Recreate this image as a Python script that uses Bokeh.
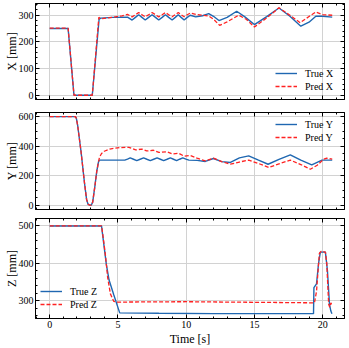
from bokeh.plotting import figure
from bokeh.layouts import column
from bokeh.models import Range1d, LinearAxis, SingleIntervalTicker, Legend, LegendItem, Grid
from bokeh.embed import file_html
from bokeh.resources import INLINE

FONT = "Liberation Serif"
BLUE = "#1f67b1"
RED = "#ff2222"

# ---- data (time in s, position in mm) ----
tx_true = [0, 1.35, 1.78, 3.12, 3.62, 3.75, 4.6, 5.7, 6.04, 6.28, 6.52, 6.76, 7.0, 7.25, 7.5, 7.75,
           7.99, 8.24, 8.48, 8.72, 8.97, 9.2, 9.42, 9.63, 9.85, 10.08, 10.3, 10.7, 11.2, 11.65, 12.0,
           12.4, 13.0, 13.7, 14.3, 15.0, 15.9, 16.8, 17.6, 18.4, 19.0, 19.5, 20.0, 20.7]
x_true = [250, 250, 0, 0, 285, 289, 292, 293, 282, 292, 302, 292, 282, 292, 302, 292,
          282, 292, 302, 292, 282, 292, 302, 292, 282, 292, 300, 294, 298, 306, 296,
          280, 292, 315, 294, 265, 295, 327, 296, 259, 274, 296, 296, 293]

tx_pred = [0, 1.35, 1.78, 3.12, 3.6, 3.75, 4.6, 5.3, 5.7, 6.04, 6.28, 6.52, 6.76, 7.0, 7.25, 7.5,
           7.75, 7.99, 8.24, 8.48, 8.72, 8.97, 9.2, 9.42, 9.63, 9.85, 10.08, 10.3, 10.7, 11.2, 11.65,
           12.0, 12.45, 13.0, 13.85, 14.4, 15.0, 15.9, 16.8, 17.6, 18.35, 19.0, 19.5, 20.0, 20.7]
x_pred = [252, 252, 0, 0, 292, 287, 292, 298, 303, 294, 302, 310, 302, 294, 302, 310,
          302, 294, 302, 310, 302, 294, 302, 310, 302, 294, 302, 308, 303, 300, 297,
          285, 262, 275, 300, 285, 256, 290, 328, 300, 272, 295, 312, 302, 300]

ty_true = [0, 1.88, 1.95, 2.05, 2.3, 2.55, 2.7, 2.8, 2.9, 3.05, 3.15, 3.3, 3.45, 3.58, 3.65,
           5.5, 5.7, 5.9, 6.14, 6.38, 6.63, 6.88, 7.12, 7.37, 7.62, 7.87, 8.11, 8.35, 8.6, 8.84,
           9.07, 9.3, 9.52, 9.75, 9.98, 10.2, 10.8, 11.4, 12.0, 12.6, 13.24, 13.9, 14.58, 15.3,
           16.0, 16.8, 17.63, 18.4, 19.2, 19.95, 20.7]
y_true = [600, 600, 590, 540, 360, 150, 40, 8, 0, 0, 20, 120, 230, 295, 305,
          305, 312, 320, 311, 302, 311, 320, 311, 302, 311, 320, 311, 302, 311, 320,
          311, 302, 311, 320, 312, 305, 303, 296, 316, 295, 289, 320, 334, 305,
          277, 310, 341, 305, 273, 305, 305]

ty_pred = [0, 1.88, 1.95, 2.05, 2.3, 2.55, 2.7, 2.8, 2.9, 3.05, 3.15, 3.3, 3.45, 3.58, 3.65,
           3.8, 4.0, 4.4, 4.8, 5.2, 5.8, 6.0, 6.3, 6.75, 7.1, 7.6, 8.0, 8.6, 9.0, 9.45,
           9.85, 10.3, 10.8, 11.4, 12.0, 12.6, 13.24, 13.9, 14.58, 15.3, 16.05, 16.8, 17.63,
           18.4, 19.1, 19.6, 20.07, 20.3, 20.7]
y_pred = [600, 600, 590, 540, 360, 150, 40, 8, 0, 0, 20, 120, 230, 295, 325,
          350, 365, 380, 386, 390, 392, 385, 374, 380, 367, 372, 357, 362, 347, 352,
          332, 336, 318, 300, 318, 295, 277, 292, 305, 282, 255, 280, 305,
          275, 243, 270, 311, 318, 311]

tz_true = [0, 3.8, 3.9, 4.15, 4.35, 4.7, 5.13, 8.0, 12.0, 19.33, 19.36, 19.55, 19.7, 19.83,
           20.2, 20.35, 20.5, 20.6, 20.68]
z_true = [500, 500, 470, 397, 355, 315, 267, 266, 265, 265, 335, 345, 400, 430,
          430, 380, 290, 272, 265]

tz_pred = [0, 3.8, 3.9, 4.08, 4.25, 4.45, 4.69, 4.95, 10.0, 19.4, 19.55, 19.76, 19.9, 20.2,
           20.3, 20.44, 20.52, 20.6, 20.68]
z_pred = [500, 500, 475, 423, 361, 318, 298, 296, 297, 294, 325, 427, 432, 430,
          400, 290, 282, 294, 288]

x_range = Range1d(-1.04, 21.6)


def style_axis(ax, labels):
    ax.axis_line_color = "black"
    ax.axis_line_width = 1
    ax.major_tick_line_color = "black"
    ax.minor_tick_line_color = "black"
    ax.major_tick_in = 4
    ax.major_tick_out = 0
    ax.minor_tick_in = 2
    ax.minor_tick_out = 0
    if labels:
        ax.major_label_text_font = FONT
        ax.major_label_text_font_size = "10px"
        ax.major_label_text_color = "black"
        ax.major_label_standoff = 2
        ax.axis_label_text_font = FONT
        ax.axis_label_text_font_size = "12px"
        ax.axis_label_text_font_style = "normal"
        ax.axis_label_text_color = "black"
        ax.axis_label_standoff = -3
    else:
        ax.major_label_text_font_size = "0px"
        ax.major_label_text_color = None
        ax.major_label_standoff = 0


def panel(height, top, bottom, yr, yint, yminor, ylabel, show_x,
          t1, v1, t2, v2, labels, loc):
    p = figure(width=349, height=height, x_range=x_range, y_range=Range1d(*yr),
               output_backend="svg", toolbar_location=None,
               min_border_left=35, min_border_right=5,
               min_border_top=top, min_border_bottom=bottom,
               x_axis_type=None, y_axis_type=None)
    p.outline_line_color = "black"
    p.outline_line_width = 1
    p.background_fill_color = "white"
    p.border_fill_color = "white"
    xt = SingleIntervalTicker(interval=5, num_minor_ticks=5)
    yt = SingleIntervalTicker(interval=yint, num_minor_ticks=yminor)
    p.add_layout(Grid(dimension=0, ticker=xt, grid_line_color="#d2d2d2", grid_line_width=1))
    p.add_layout(Grid(dimension=1, ticker=yt, grid_line_color="#d2d2d2", grid_line_width=1))

    bx = LinearAxis(ticker=xt, axis_label="Time [s]" if show_x else None)
    style_axis(bx, show_x)
    if show_x:
        bx.axis_label_standoff = 1
    p.add_layout(bx, "below")
    ly = LinearAxis(ticker=yt, axis_label=ylabel)
    style_axis(ly, True)
    p.add_layout(ly, "left")
    ax_top = LinearAxis(ticker=xt)
    style_axis(ax_top, False)
    p.add_layout(ax_top, "above")
    ax_r = LinearAxis(ticker=yt)
    style_axis(ax_r, False)
    p.add_layout(ax_r, "right")

    r1 = p.line(t1, v1, line_color=BLUE, line_width=1.4)
    r2 = p.line(t2, v2, line_color=RED, line_width=1.3, line_dash="4 2")
    lg = Legend(items=[LegendItem(label=labels[0], renderers=[r1]),
                       LegendItem(label=labels[1], renderers=[r2])],
                location=loc)
    lg.border_line_color = None
    lg.background_fill_alpha = 0
    lg.label_text_font = FONT
    lg.label_text_font_size = "10px"
    lg.label_text_color = "black"
    lg.glyph_width = 22
    lg.glyph_height = 12
    lg.label_height = 12
    lg.spacing = 1
    lg.padding = 3
    lg.margin = 0
    lg.label_standoff = 8
    p.add_layout(lg)
    return p


p1 = panel(106, 3, 7, (-16, 344), 100, 5, "X [mm]", False,
           tx_true, x_true, tx_pred, x_pred, ("True X", "Pred X"), (240, 7))
p2 = panel(106, 6, 3, (-30, 628), 200, 4, "Y [mm]", False,
           ty_true, y_true, ty_pred, y_pred, ("True Y", "Pred Y"), (240, 66))
p3 = panel(136, 6, 29, (252, 520), 100, 5, "Z [mm]", True,
           tz_true, z_true, tz_pred, z_pred, ("True Z", "Pred Z"), (5, 8))

layout = column(p1, p2, p3, spacing=0)
open("out.html", "w").write(file_html(layout, INLINE))
